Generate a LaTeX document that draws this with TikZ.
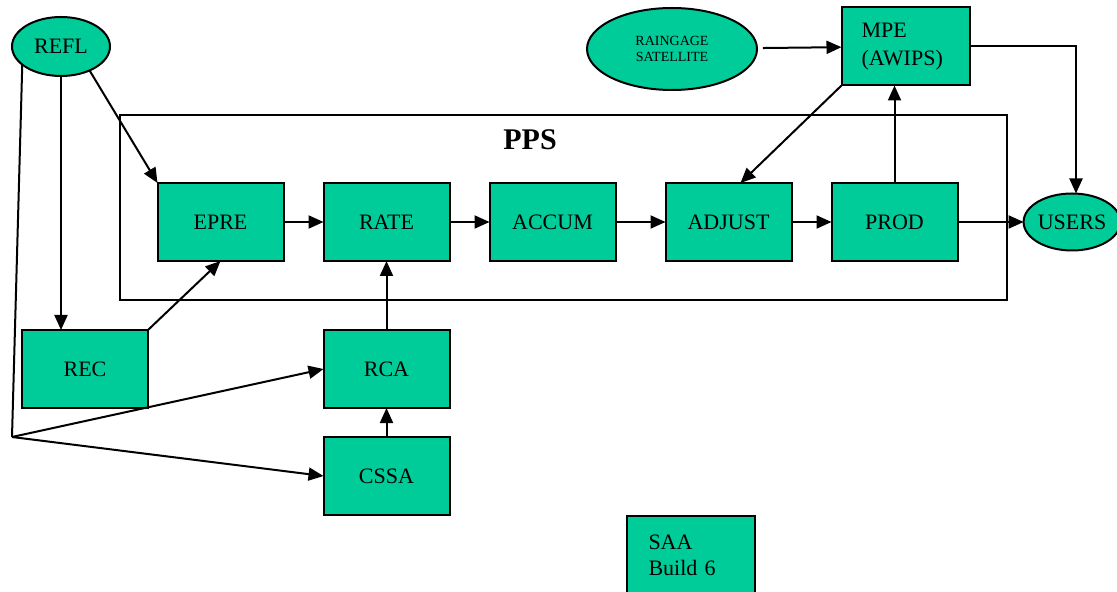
\documentclass[tikz,border=0pt]{standalone}
\usepackage{fontspec}
\setmainfont{Liberation Serif}
\usetikzlibrary{arrows.meta,positioning,shapes.geometric}
\definecolor{procteal}{RGB}{0,204,153}

\begin{document}
\begin{tikzpicture}[x=0.5pt, y=-0.5pt, >={Triangle[length=7.5pt,width=6.5pt]}, line width=1pt]
  \tikzset{proc/.style={draw, fill=procteal, minimum width=63pt, minimum height=39pt, inner sep=0pt, outer sep=0pt, font=\fontsize{11}{14}\selectfont},
           src/.style={draw, ellipse, fill=procteal, inner sep=0pt, outer sep=0pt, font=\fontsize{11}{14}\selectfont},
           flow/.style={->}}
  \useasboundingbox (0,0) rectangle (1117,592);
  % PPS frame
  \draw (120,115) rectangle (1007,300);
  \node[font=\fontsize{15}{18}\selectfont\bfseries] (ppstitle) at (530,140) {PPS};
  % main chain
  \node[proc] (epre) at (220.5,222) {EPRE};
  \node[proc, right=20pt of epre] (rate) {RATE};
  \node[proc, right=20pt of rate] (accum) {ACCUM};
  \node[proc, right=25pt of accum] (adjust) {ADJUST};
  \node[proc, right=20pt of adjust] (prod) {PROD};
  \node[proc, below=34.5pt of rate] (rca) {RCA};
  \node[proc, below=14.5pt of rca] (cssa) {CSSA};
  \node[proc] (rec) at (85,369) {REC};
  \node[proc, align=left, text width=44pt, inner xsep=10pt] (mpe) at (905.5,46.5) {MPE\\(AWIPS)};
  \node[proc, align=left, text width=42pt, inner xsep=11pt, font=\fontsize{11}{13}\selectfont] (saa) at (690.5,555) {SAA\\Build 6};
  % sources and sinks
  \node[src, minimum width=49pt, minimum height=29.5pt] (refl) at (61,46.5) {REFL};
  \node[src, minimum width=85pt, minimum height=41pt, align=center, font=\fontsize{7}{8}\selectfont] (gauge) at (672,49) {RAINGAGE\\SATELLITE};
  \node[src, minimum width=46pt, minimum height=28.5pt] (users) at (1072,222) {USERS};
  \coordinate (split) at (12,437);
  % connectors
  \draw[flow] (epre) -- (rate);
  \draw[flow] (rate) -- (accum);
  \draw[flow] (accum) -- (adjust);
  \draw[flow] (adjust) -- (prod);
  \draw[flow] (prod) -- (users);
  \draw[flow] (rca) -- (rate);
  \draw[flow] (cssa) -- (rca);
  \draw[flow] (rec.north east) -- (epre.south);
  \draw[flow] (refl.-40) -- (epre.north west);
  \draw[flow] (refl.south) -- (refl.south |- rec.north);
  \draw (refl.205) -- (split);
  \draw[flow] (split) -- (rca.west);
  \draw[flow] (split) -- (cssa.west);
  \draw[flow, shorten <=3pt] (gauge) -- (mpe);
  \draw[flow] (mpe.south west) -- ([xshift=6pt]adjust.north);
  \draw[flow] (prod.north) -- (prod.north |- mpe.south);
  \draw[flow] (mpe.east) -| ([xshift=2pt]users.north);
\end{tikzpicture}
\end{document}
